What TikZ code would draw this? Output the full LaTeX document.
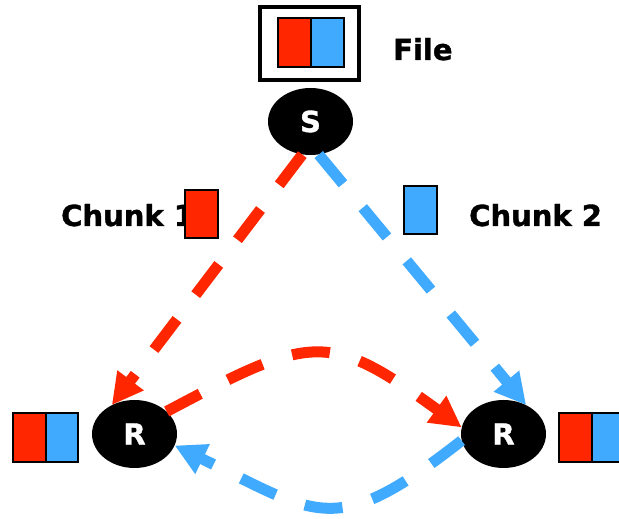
\documentclass[tikz,border=0pt]{standalone}
\usepackage{fontspec}
\setmainfont{DejaVu Sans}[BoldFeatures={FakeBold=1.2}]
\usetikzlibrary{arrows.meta,shapes.geometric}
\definecolor{cred}{RGB}{255,38,0}
\definecolor{cblue}{RGB}{64,170,255}
\begin{document}
\begin{tikzpicture}[x=1pt,y=1pt,
  peer/.style={ellipse, fill=black, minimum width=85pt, minimum height=68pt, inner sep=0pt, text=white, font=\fontsize{29}{29}\selectfont\bfseries},
  lbl/.style={inner sep=0pt, anchor=base west, font=\fontsize{29}{29}\selectfont\bfseries},
  chunk/.style={draw=black, line width=2pt, minimum width=33pt, minimum height=48pt, inner sep=0pt},
  flow/.style={line width=11pt, dash pattern=on 38pt off 31pt, -{Triangle[length=31pt,width=31pt]}}]
\useasboundingbox (0,0) rectangle (619,519);
% labels
\node[lbl] (filelbl) at (393,459) {File};
\node[lbl] (c1lbl) at (61,293) {Chunk 1};
\node[lbl] (c2lbl) at (469,293) {Chunk 2};
% file at source
\node[draw=black, line width=3.5pt, minimum width=99pt, minimum height=73pt, inner sep=0pt] (filebox) at (309.5,475.5) {};
\node[chunk, fill=cred, minimum height=49pt] (sred) at (294.5,476.5) {};
\node[chunk, fill=cblue, minimum height=49pt] (sblue) at (327.5,476.5) {};
% chunks in transit
\node[chunk, fill=cred] (c1box) at (201.5,305) {};
\node[chunk, fill=cblue] (c2box) at (420.5,309) {};
% peers
\node[peer, minimum height=67pt] (S) at (310.5,397.5) {S};
\node[peer] (L) at (134.5,85) {R};
\node[peer] (Rr) at (503.5,85) {R};
% files at receivers
\node[chunk, fill=cred, minimum height=49pt] (lred) at (29.5,81.5) {};
\node[chunk, fill=cblue, minimum height=49pt, minimum width=32pt] (lblue) at (62,81.5) {};
\node[chunk, fill=cred, minimum height=49pt] (rred) at (575.5,81.5) {};
\node[chunk, fill=cblue, minimum height=49pt] (rblue) at (608.5,81.5) {};
% flows
\draw[flow, cred] (S.256) -- (L.128);
\draw[flow, cblue] (S.284) -- (Rr.52);
\draw[flow, cred] (L.35) .. controls +(28:165) and +(144:165) .. (Rr.171);
\draw[flow, cblue] (Rr.189) .. controls +(218:161) and +(334:161) .. (L.344);
\end{tikzpicture}
\end{document}
